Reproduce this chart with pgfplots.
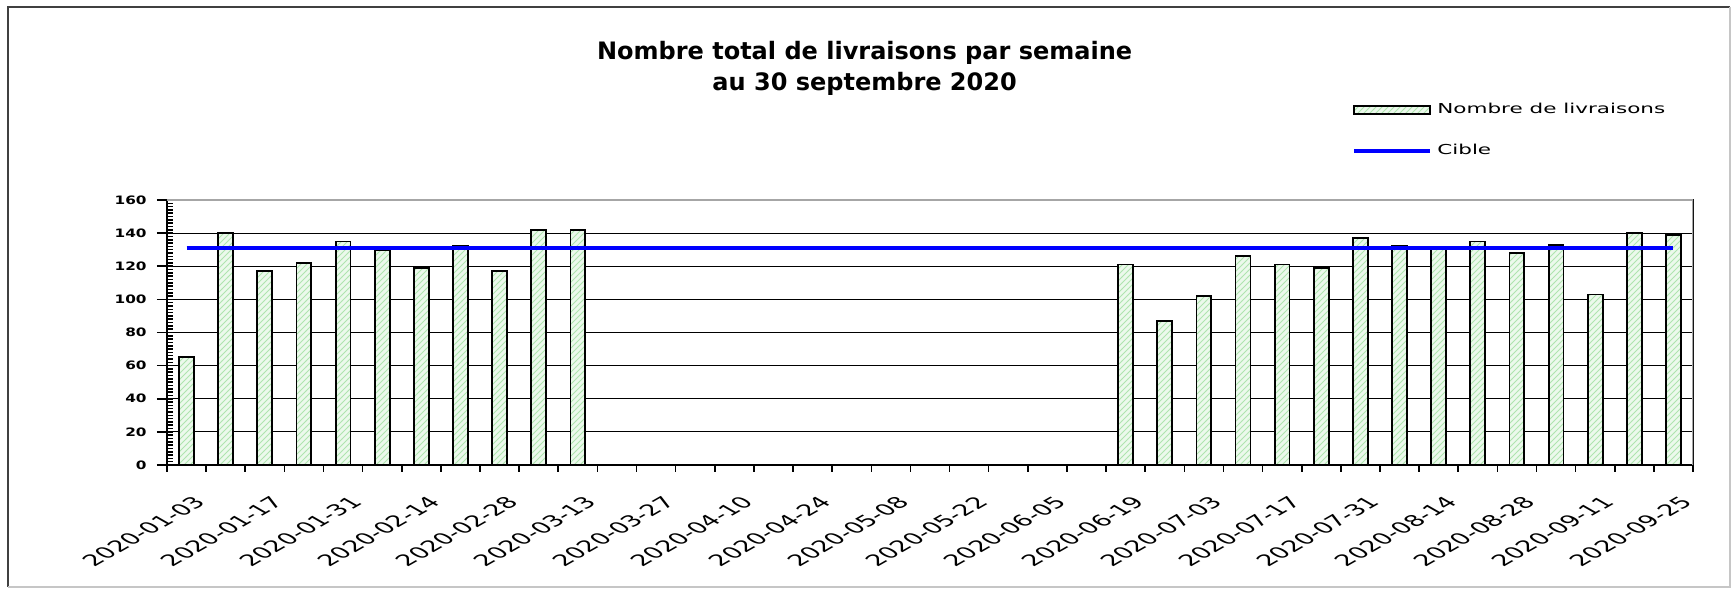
\documentclass[border=0pt]{standalone}
\usepackage{fontspec}
\setmainfont{DejaVu Sans}
\usepackage{graphicx}
\usepackage{pgfplots}
\pgfplotsset{compat=1.18}
\usepackage{pgfplotstable}
\usetikzlibrary{patterns}
\definecolor{barfill}{RGB}{236,249,236}
\definecolor{barline}{RGB}{175,228,175}
\definecolor{cible}{RGB}{0,0,255}

\pgfplotsset{
  barlegend/.style={legend image code/.code={\draw[##1, line width=1pt] (0pt,-2pt) rectangle (38pt,2pt);}},
  linelegend/.style={legend image code/.code={\draw[##1] (0pt,0pt) -- (38pt,0pt);}},
}

\pgfplotstableread{
x y
0 65
1 140
2 117
3 122
4 135
5 130
6 119
7 132
8 117
9 142
10 142
24 121
25 87
26 102
27 126
28 121
29 119
30 137
31 132
32 131
33 135
34 128
35 133
36 103
37 140
38 139
}\livraisons

\begin{document}
\begin{tikzpicture}
\useasboundingbox (-83.5pt,-62pt) rectangle (784.5pt,232.5pt);
\draw[line width=1pt, black!75] (-79.5pt,-61pt) -- (-79.5pt,229pt) -- (781.5pt,229pt);
\draw[line width=0.8pt, gray!45] (781.5pt,229pt) -- (781.5pt,-61pt) -- (-79.5pt,-61pt);
\begin{axis}[
  at={(0pt,0pt)}, anchor=south west,
  scale only axis, width=763pt, height=132.5pt,
  xmin=-0.5, xmax=38.5, ymin=0, ymax=160,
  ytick={0,20,...,160},
  extra y ticks={2,4,...,158},
  extra y tick style={grid=none, tick align=inside, major tick length=3pt, yticklabel={}, major tick style={line width=0.6pt, black}},
  xtick={0,2,...,38},
  xticklabels={2020-01-03,2020-01-17,2020-01-31,2020-02-14,2020-02-28,2020-03-13,2020-03-27,2020-04-10,2020-04-24,2020-05-08,2020-05-22,2020-06-05,2020-06-19,2020-07-03,2020-07-17,2020-07-31,2020-08-14,2020-08-28,2020-09-11,2020-09-25},
  minor xtick={-0.5,0.5,...,38.5},
  tick align=outside,
  major tick length=5pt,
  minor tick length=3.5pt,
  xtick pos=left, ytick pos=left,
  major x tick style={draw=none},
  minor x tick style={line width=0.8pt, black},
  major y tick style={line width=0.8pt, black},
  ymajorgrids,
  major grid style={black, line width=0.6pt},
  axis line style={black, line width=0.8pt},
  /pgf/number format/assume math mode=true,
  yticklabel={\scalebox{1.32}[1]{\pgfmathprintnumber{\tick}}},
  yticklabel style={font=\fontsize{5.8}{6}\bfseries\selectfont, inner sep=0pt, xshift=-5pt},
  xticklabel style={font=\fontsize{7.8}{8}\selectfont, anchor=north east, inner sep=0pt, xshift=3pt, yshift=-10pt, xscale=1.75, rotate=45},
  legend style={at={(axis description cs:0.7765,1.368)}, anchor=north west, draw=none, fill=none, inner sep=0pt, row sep=14pt, font=\fontsize{6.85}{8}\selectfont, nodes={inner sep=0pt, anchor=west}, /tikz/every odd column/.style={column sep=2.5pt}},
  legend cell align=left,
]
\addplot[ybar, bar width=0.38, draw=black, line width=0.9pt, fill=barfill,
  postaction={pattern=north east lines, pattern color=barline}, barlegend]
  table[x=x,y=y]{\livraisons};
\addlegendentry{\scalebox{1.57}[1]{Nombre de livraisons}}
\addplot[color=cible, line width=2pt, mark=none, linelegend]
  coordinates {(0,131) (38,131)};
\addlegendentry{\scalebox{1.57}[1]{Cible}}
\draw[gray!70, line width=0.8pt] (rel axis cs:0,1) -- (rel axis cs:1,1) -- (rel axis cs:1,0);
\end{axis}
\node[font=\fontsize{12}{14}\bfseries\selectfont, anchor=base] at (348.8pt,202.9pt) {Nombre total de livraisons par semaine};
\node[font=\fontsize{12}{14}\bfseries\selectfont, anchor=base] at (348.8pt,187.2pt) {au 30 septembre 2020};
\end{tikzpicture}
\end{document}
